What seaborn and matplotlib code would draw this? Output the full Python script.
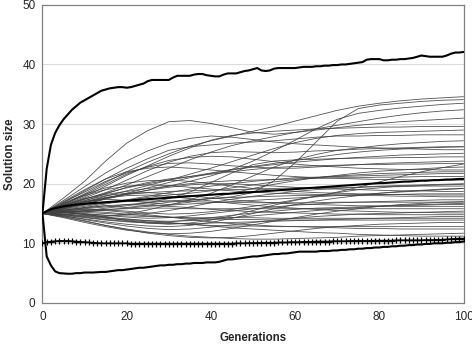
import numpy as np
import pandas as pd
import matplotlib
matplotlib.use("Agg")
import matplotlib.pyplot as plt
import seaborn as sns

# ---- data -------------------------------------------------------------
generations = list(range(0, 101))
sample_gens = list(range(0, 101, 5))

# best / worst / average solution size per generation
best_size = [
    15.0, 22.5, 26.5, 28.5, 29.8, 30.8, 31.6, 32.4, 33.0, 33.6, 34.0,
    34.4, 34.8, 35.2, 35.6, 35.8, 36.0, 36.1, 36.2, 36.2, 36.1,
    36.2, 36.4, 36.6, 36.8, 37.2, 37.4, 37.4, 37.4, 37.4, 37.4,
    37.8, 38.1, 38.1, 38.1, 38.1, 38.3, 38.4, 38.4, 38.2, 38.1,
    38.0, 38.0, 38.3, 38.5, 38.5, 38.5, 38.7, 38.9, 39.0, 39.2,
    39.4, 39.0, 38.9, 39.0, 39.3, 39.4, 39.4, 39.4, 39.4, 39.4,
    39.5, 39.6, 39.6, 39.6, 39.7, 39.7, 39.8, 39.8, 39.9, 39.9,
    40.0, 40.0, 40.1, 40.2, 40.3, 40.4, 40.8, 40.9, 40.9, 40.9,
    40.7, 40.7, 40.8, 40.8, 40.9, 40.9, 41.0, 41.1, 41.3, 41.5,
    41.4, 41.3, 41.3, 41.3, 41.3, 41.5, 41.8, 42.0, 42.0, 42.1,
]
worst_size = [
    15.0, 7.8, 6.3, 5.3, 5.0, 4.95, 4.9, 4.9, 5.0, 5.0, 5.1,
    5.1, 5.1, 5.15, 5.2, 5.2, 5.3, 5.4, 5.5, 5.5, 5.6,
    5.7, 5.8, 5.9, 5.9, 6.0, 6.1, 6.2, 6.3, 6.3, 6.4,
    6.4, 6.5, 6.5, 6.6, 6.6, 6.7, 6.7, 6.7, 6.8, 6.8,
    6.8, 6.9, 7.1, 7.3, 7.3, 7.4, 7.5, 7.6, 7.7, 7.8,
    7.8, 7.9, 8.0, 8.1, 8.2, 8.2, 8.3, 8.3, 8.4, 8.5,
    8.6, 8.6, 8.6, 8.6, 8.6, 8.7, 8.7, 8.7, 8.8, 8.8,
    8.9, 8.9, 9.0, 9.0, 9.1, 9.1, 9.2, 9.2, 9.3, 9.3,
    9.4, 9.4, 9.5, 9.5, 9.6, 9.6, 9.7, 9.7, 9.8, 9.8,
    9.9, 9.9, 10.0, 10.0, 10.0, 10.1, 10.1, 10.2, 10.2, 10.3,
]
mean_size = [
    15.0, 15.4, 15.7, 15.9, 16.05, 16.2, 16.3, 16.4, 16.5, 16.55, 16.6,
    16.7, 16.75, 16.8, 16.85, 16.9, 16.95, 17.0, 17.05, 17.1, 17.15,
    17.2, 17.25, 17.3, 17.35, 17.4, 17.45, 17.5, 17.55, 17.6, 17.65,
    17.7, 17.75, 17.8, 17.85, 17.9, 17.95, 18.0, 18.05, 18.1, 18.15,
    18.2, 18.25, 18.3, 18.3, 18.35, 18.4, 18.45, 18.5, 18.55, 18.6,
    18.65, 18.7, 18.75, 18.8, 18.85, 18.9, 18.95, 19.0, 19.05, 19.1,
    19.15, 19.2, 19.25, 19.3, 19.35, 19.4, 19.45, 19.5, 19.55, 19.6,
    19.65, 19.7, 19.75, 19.8, 19.85, 19.9, 19.95, 20.0, 20.05, 20.1,
    20.1, 20.15, 20.2, 20.25, 20.3, 20.35, 20.35, 20.4, 20.45, 20.5,
    20.5, 20.55, 20.6, 20.6, 20.65, 20.7, 20.7, 20.75, 20.8, 20.8,
]
# reference run (drawn with + markers)
baseline_size = [
    10.0, 10.2, 10.3, 10.35, 10.4, 10.4, 10.4, 10.35, 10.3, 10.25, 10.2,
    10.15, 10.1, 10.05, 10.0, 10.0, 10.0, 10.0, 10.0, 10.0, 10.0,
    9.95, 9.95, 9.95, 9.95, 9.95, 9.95, 9.95, 9.95, 9.95, 9.95,
    9.95, 9.95, 9.95, 9.95, 9.95, 9.95, 9.95, 9.95, 9.95, 9.95,
    9.95, 9.95, 9.95, 9.95, 9.95, 10.0, 10.0, 10.0, 10.05, 10.05,
    10.05, 10.1, 10.1, 10.1, 10.1, 10.15, 10.15, 10.15, 10.2, 10.2,
    10.2, 10.25, 10.25, 10.25, 10.3, 10.3, 10.3, 10.3, 10.35, 10.35,
    10.35, 10.35, 10.4, 10.4, 10.4, 10.4, 10.4, 10.4, 10.45, 10.45,
    10.45, 10.45, 10.45, 10.5, 10.5, 10.5, 10.5, 10.5, 10.5, 10.5,
    10.55, 10.55, 10.55, 10.6, 10.6, 10.65, 10.7, 10.75, 10.8, 10.8,
]

# individual runs, sampled every 5 generations
runs = [
    [15, 16.6, 18.3, 20.2, 22.0, 23.6, 25.0, 26.3, 27.2, 28.0, 28.8, 29.6, 30.5, 31.4, 32.3, 33.0, 33.5, 33.9, 34.2, 34.4, 34.6],
    [15, 15.6, 15.9, 16.3, 16.0, 16.4, 16.9, 17.2, 17.5, 17.8, 18.5, 20.5, 23.5, 27.0, 30.5, 32.6, 33.2, 33.5, 33.8, 34.0, 34.1],
    [15, 15.9, 16.6, 17.4, 18.2, 18.9, 19.6, 20.4, 21.3, 22.4, 23.8, 25.5, 27.3, 29.2, 30.8, 31.8, 32.3, 32.7, 33.0, 33.3, 33.5],
    [15, 16.2, 17.4, 18.5, 19.8, 21.2, 22.6, 24.0, 25.3, 26.4, 27.2, 27.9, 28.6, 29.2, 29.8, 30.4, 31.0, 31.5, 31.9, 32.2, 32.4],
    [15, 17.6, 20.4, 23.8, 26.8, 28.9, 30.4, 30.6, 30.1, 29.4, 28.6, 28.3, 28.6, 29.0, 29.4, 29.8, 30.1, 30.4, 30.6, 30.8, 31.0],
    [15, 16.4, 17.8, 19.6, 21.4, 23.0, 24.6, 26.0, 27.3, 28.1, 28.5, 28.8, 29.0, 29.2, 29.3, 29.4, 29.5, 29.5, 29.6, 29.6, 29.6],
    [15, 16.8, 18.8, 20.8, 22.6, 24.2, 25.6, 26.2, 26.5, 26.8, 27.0, 27.2, 27.5, 27.8, 28.0, 28.0, 28.1, 28.1, 28.2, 28.2, 28.2],
    [15, 15.3, 14.8, 14.5, 14.9, 15.6, 16.4, 17.3, 18.4, 19.8, 21.3, 22.8, 24.0, 24.9, 25.6, 26.0, 26.4, 26.7, 26.9, 27.1, 27.2],
    [15, 16.3, 17.6, 19.0, 20.6, 22.2, 23.6, 24.6, 25.2, 25.4, 25.3, 25.2, 25.3, 25.5, 25.6, 25.8, 25.9, 26.0, 26.1, 26.2, 26.2],
    [15, 17.2, 19.5, 21.8, 23.8, 25.5, 26.8, 27.6, 28.0, 27.8, 27.4, 27.0, 26.7, 26.5, 26.3, 26.1, 26.0, 25.9, 25.8, 25.7, 25.7],
    [15, 15.8, 16.6, 17.5, 18.4, 19.3, 20.2, 21.0, 21.7, 22.3, 22.8, 23.2, 23.6, 23.9, 24.2, 24.4, 24.6, 24.8, 24.9, 25.0, 25.1],
    [15, 15.2, 15.4, 15.9, 16.3, 16.8, 17.5, 18.6, 20.2, 21.8, 23.2, 23.8, 24.0, 24.1, 24.2, 24.3, 24.3, 24.4, 24.4, 24.5, 24.5],
    [15, 16.9, 18.6, 20.4, 21.8, 22.8, 23.4, 23.5, 23.3, 23.0, 22.8, 22.6, 22.6, 22.8, 23.0, 23.2, 23.4, 23.5, 23.6, 23.7, 23.8],
    [15, 16.0, 17.1, 18.3, 19.4, 20.2, 20.8, 21.2, 21.6, 22.0, 22.4, 22.7, 22.9, 23.0, 23.1, 23.2, 23.2, 23.3, 23.3, 23.4, 23.4],
    [15, 16.2, 17.0, 17.4, 17.2, 16.8, 16.5, 16.9, 17.6, 18.4, 19.2, 19.9, 20.5, 21.0, 21.4, 21.8, 22.1, 22.3, 22.5, 22.7, 22.8],
    [15, 16.5, 18.1, 19.9, 21.6, 22.9, 23.9, 24.4, 24.6, 24.5, 24.1, 23.7, 23.3, 23.0, 22.8, 22.6, 22.5, 22.4, 22.4, 22.3, 22.3],
    [15, 15.7, 16.2, 16.8, 17.3, 17.9, 18.5, 19.1, 19.6, 20.0, 20.4, 20.7, 21.0, 21.1, 21.2, 21.3, 21.4, 21.5, 21.6, 21.7, 21.7],
    [15, 16.4, 17.5, 18.2, 18.7, 19.2, 19.6, 20.0, 20.3, 20.5, 20.6, 20.7, 20.8, 20.9, 21.0, 21.0, 21.1, 21.1, 21.2, 21.2, 21.2],
    [15, 17.0, 19.0, 20.8, 22.0, 22.6, 22.8, 22.6, 22.3, 22.0, 21.7, 21.4, 21.2, 21.0, 20.9, 20.8, 20.7, 20.7, 20.6, 20.6, 20.6],
    [15, 15.3, 15.2, 15.0, 14.8, 15.0, 15.5, 16.1, 16.8, 17.4, 17.9, 18.3, 18.7, 19.0, 19.2, 19.4, 19.6, 19.7, 19.8, 19.9, 20.0],
    [15, 16.1, 17.0, 17.7, 18.2, 18.5, 18.7, 18.8, 18.9, 19.0, 19.1, 19.2, 19.3, 19.3, 19.4, 19.4, 19.5, 19.5, 19.6, 19.6, 19.6],
    [15, 14.6, 14.1, 13.6, 13.2, 12.9, 12.8, 13.0, 13.5, 14.2, 15.0, 15.8, 16.5, 17.1, 17.6, 18.0, 18.4, 18.7, 18.9, 19.1, 19.2],
    [15, 15.9, 16.8, 17.6, 18.3, 18.9, 19.4, 19.8, 20.0, 20.0, 19.8, 19.6, 19.4, 19.2, 19.1, 19.0, 18.9, 18.8, 18.8, 18.7, 18.7],
    [15, 15.4, 15.8, 16.1, 16.5, 16.8, 17.1, 17.3, 17.5, 17.7, 17.8, 17.9, 18.0, 18.0, 18.1, 18.1, 18.2, 18.2, 18.3, 18.3, 18.3],
    [15, 16.6, 18.0, 19.0, 19.6, 19.8, 19.7, 19.4, 19.1, 18.8, 18.6, 18.4, 18.3, 18.2, 18.1, 18.0, 18.0, 17.9, 17.9, 17.8, 17.8],
    [15, 15.2, 15.0, 14.7, 14.4, 14.2, 14.3, 14.6, 15.0, 15.4, 15.8, 16.1, 16.4, 16.6, 16.8, 16.9, 17.0, 17.1, 17.2, 17.3, 17.3],
    [15, 15.8, 16.4, 16.8, 17.0, 17.1, 17.1, 17.0, 16.9, 16.9, 16.8, 16.8, 16.8, 16.8, 16.9, 16.9, 16.9, 16.9, 16.9, 16.9, 16.9],
    [15, 14.8, 14.4, 14.0, 13.7, 13.5, 13.6, 13.9, 14.3, 14.7, 15.1, 15.4, 15.7, 15.9, 16.0, 16.1, 16.2, 16.3, 16.4, 16.5, 16.5],
    [15, 16.2, 17.2, 18.0, 18.4, 18.5, 18.3, 18.0, 17.6, 17.3, 17.0, 16.8, 16.6, 16.5, 16.4, 16.3, 16.3, 16.2, 16.2, 16.2, 16.2],
    [15, 15.2, 15.5, 15.7, 15.8, 15.9, 15.9, 15.8, 15.8, 15.8, 15.8, 15.8, 15.8, 15.8, 15.8, 15.8, 15.8, 15.8, 15.8, 15.8, 15.8],
    [15, 14.6, 14.0, 13.4, 12.9, 12.5, 12.3, 12.4, 12.7, 13.1, 13.5, 13.9, 14.2, 14.5, 14.7, 14.9, 15.0, 15.1, 15.2, 15.3, 15.4],
    [15, 15.6, 16.0, 16.3, 16.5, 16.4, 16.2, 16.0, 15.7, 15.5, 15.3, 15.2, 15.1, 15.0, 14.9, 14.9, 14.8, 14.8, 14.8, 14.8, 14.8],
    [15, 14.7, 14.3, 13.9, 13.6, 13.4, 13.3, 13.3, 13.4, 13.5, 13.6, 13.7, 13.8, 13.9, 14.0, 14.1, 14.2, 14.3, 14.4, 14.5, 14.5],
    [15, 15.3, 15.4, 15.2, 14.9, 14.6, 14.4, 14.2, 14.1, 14.0, 14.0, 13.9, 13.9, 13.9, 13.9, 13.9, 13.9, 13.9, 13.9, 13.9, 13.9],
    [15, 14.5, 13.8, 13.0, 12.3, 11.7, 11.3, 11.0, 10.9, 11.0, 11.3, 11.7, 12.1, 12.5, 12.8, 13.0, 13.2, 13.3, 13.4, 13.5, 13.5],
    [15, 14.8, 14.5, 14.2, 13.9, 13.6, 13.4, 13.2, 13.0, 12.9, 12.9, 12.8, 12.8, 12.8, 12.8, 12.8, 12.8, 12.8, 12.8, 12.8, 12.8],
    [15, 15.4, 15.6, 15.5, 15.2, 14.8, 14.4, 14.0, 13.6, 13.3, 13.1, 12.9, 12.8, 12.7, 12.6, 12.5, 12.5, 12.4, 12.4, 12.4, 12.4],
    [15, 14.4, 13.7, 13.0, 12.4, 11.9, 11.5, 11.2, 11.0, 10.8, 10.7, 10.7, 10.8, 10.9, 11.0, 11.2, 11.3, 11.4, 11.5, 11.6, 11.7],
    [15, 14.9, 14.7, 14.4, 14.1, 13.8, 13.5, 13.2, 12.9, 12.6, 12.4, 12.2, 12.0, 11.8, 11.7, 11.5, 11.4, 11.3, 11.2, 11.2, 11.2],
    [15, 14.3, 13.5, 12.8, 12.2, 11.8, 11.6, 11.7, 12.0, 12.5, 13.1, 13.7, 14.3, 14.9, 15.4, 15.8, 16.2, 16.5, 16.7, 16.9, 17.0],
    [15, 15.1, 14.9, 14.4, 13.8, 13.4, 13.2, 13.4, 13.9, 14.6, 15.5, 16.4, 17.2, 17.9, 18.5, 19.0, 19.3, 19.6, 19.7, 19.8, 19.9],
    [15, 15.5, 16.0, 16.6, 17.2, 17.7, 18.1, 18.4, 18.8, 19.3, 19.8, 20.3, 20.7, 21.0, 21.3, 21.5, 21.7, 21.8, 21.9, 22.0, 22.0],
    [15, 16.0, 16.9, 17.6, 18.0, 18.1, 17.9, 17.5, 17.1, 16.7, 16.4, 16.1, 15.9, 15.7, 15.5, 15.4, 15.3, 15.2, 15.2, 15.1, 15.1],
    [15, 15.1, 14.9, 14.7, 14.6, 14.5, 14.4, 14.3, 14.3, 14.3, 14.3, 14.2, 14.2, 14.2, 14.2, 14.2, 14.2, 14.2, 14.2, 14.2, 14.2],
    [15, 15.9, 16.9, 17.9, 18.8, 19.7, 20.6, 21.6, 22.6, 23.7, 24.8, 25.9, 26.9, 27.6, 28.1, 28.4, 28.6, 28.7, 28.8, 28.9, 29.0],
    [15, 16.7, 18.2, 19.3, 20.1, 20.5, 20.6, 20.4, 20.0, 19.6, 19.2, 18.9, 18.7, 18.5, 18.4, 18.3, 18.2, 18.2, 18.1, 18.1, 18.1],
    [15, 15.5, 15.7, 15.6, 15.4, 15.1, 14.9, 15.0, 15.3, 15.7, 16.2, 16.7, 17.3, 17.9, 18.6, 19.4, 20.3, 21.2, 22.0, 22.7, 23.3],
    [15, 16.3, 17.4, 18.4, 19.3, 20.0, 20.6, 21.2, 21.8, 22.4, 22.9, 23.4, 23.9, 24.4, 24.9, 25.3, 25.6, 25.8, 26.0, 26.1, 26.2],
    [15, 15.1, 15.3, 15.6, 15.9, 16.2, 16.4, 16.6, 16.8, 17.0, 17.2, 17.4, 17.6, 17.8, 18.0, 18.2, 18.4, 18.6, 18.8, 19.0, 19.2],
    [15, 14.9, 14.6, 14.3, 14.0, 13.8, 13.7, 13.8, 14.0, 14.3, 14.6, 14.9, 15.2, 15.5, 15.8, 16.0, 16.2, 16.4, 16.5, 16.6, 16.7],
]

x_ticks = [0, 20, 40, 60, 80, 100]
y_ticks = [0, 10, 20, 30, 40, 50]

# ---- tidy frames ------------------------------------------------------
run_df = pd.DataFrame(
    [(i, g, v) for i, r in enumerate(runs) for g, v in zip(sample_gens, r)],
    columns=["run", "gen", "size"],
)
summary_df = pd.DataFrame({
    "gen": generations,
    "best": best_size,
    "worst": worst_size,
    "mean": mean_size,
    "baseline": baseline_size,
})

# ---- figure -----------------------------------------------------------
sns.set_style("white")
plt.rcParams["font.family"] = ["Liberation Sans", "DejaVu Sans"]

fig = plt.figure(figsize=(4.72, 3.47), dpi=100)
ax = fig.add_axes([0.090, 0.127, 0.892, 0.859])

for yv in [10, 20, 30, 40]:
    ax.axhline(yv, color="#dcdcdc", lw=0.8, zorder=0)

sns.lineplot(data=run_df, x="gen", y="size", units="run", estimator=None,
             color="#404040", lw=0.6, alpha=0.9, ax=ax, legend=False, zorder=2)

for col in ["best", "worst", "mean"]:
    sns.lineplot(data=summary_df, x="gen", y=col, color="black", lw=1.5,
                 ax=ax, legend=False, zorder=4)

sns.lineplot(data=summary_df, x="gen", y="baseline", color="black", lw=1.2,
             marker="+", markersize=5, markeredgewidth=0.9,
             markeredgecolor="black", ax=ax, legend=False, zorder=4)

ax.set_xlim(0, 100)
ax.set_ylim(0, 50)
ax.set_xticks(x_ticks)
ax.set_yticks(y_ticks)
ax.tick_params(axis="x", direction="in", length=3, color="#808080",
               labelsize=8.5, pad=6)
ax.tick_params(axis="y", direction="out", length=3, color="#808080",
               labelsize=8.5, pad=2)
for s in ax.spines.values():
    s.set_color("#808080")
    s.set_linewidth(0.9)

ax.set_xlabel("Generations", fontsize=8.3, fontweight="bold", labelpad=6)
ax.set_ylabel("Solution size", fontsize=8.3, fontweight="bold")
ax.yaxis.set_label_coords(-0.063, 0.5)

fig.savefig("out.png", dpi=100)
